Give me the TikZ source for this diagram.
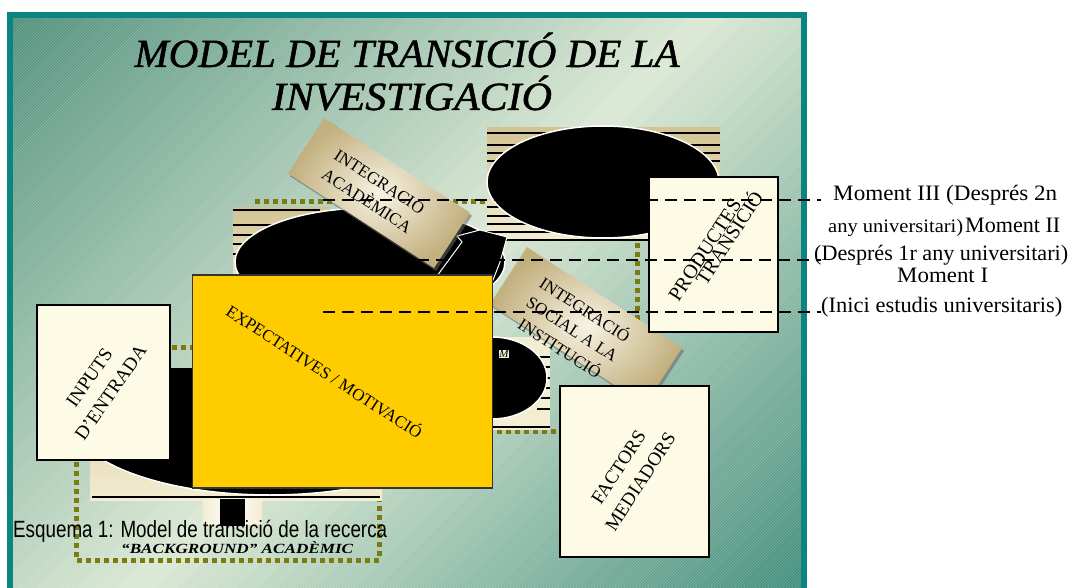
\documentclass[tikz,border=0pt]{standalone}
\usepackage{fontspec}
\setmainfont{Liberation Serif}
\setsansfont{Liberation Sans}
\newfontfamily\titlefont[FakeBold=1.2]{Liberation Serif}
\usetikzlibrary{patterns,shadows}
\definecolor{panelborder}{HTML}{0B8580}
\definecolor{bgdark}{HTML}{4F907C}
\definecolor{bglight}{HTML}{DCE9D5}
\definecolor{bgdeep}{HTML}{3A8977}
\definecolor{cream}{HTML}{FDFBE6}
\definecolor{paper}{HTML}{F3EDD2}
\definecolor{khaki}{HTML}{D2C393}
\definecolor{goldbox}{HTML}{FFCC00}
\definecolor{tagtan}{HTML}{C3B07F}
\definecolor{taglight}{HTML}{F7F3E3}
\definecolor{olivedot}{HTML}{7E7A12}
\tikzset{
 mybox/.style={draw=black, line width=2.4pt, fill=cream, inner sep=0pt},
 boxtext/.style={font=\fontsize{19}{26}\selectfont, align=center, inner sep=0pt},
 tagbox/.style={rotate=-33, inner sep=0pt, inner color=taglight, outer color=tagtan,
   drop shadow={shadow xshift=2pt, shadow yshift=-3pt, opacity=0.55, fill=black!60}},
 tagtext/.style={rotate=-33, font=\fontsize{17}{23}\selectfont, align=center, inner sep=0pt},
 dotline/.style={draw=olivedot, line width=5pt, dash pattern=on 5pt off 4pt},
 dashline/.style={draw=black, line width=1.8pt, dash pattern=on 12pt off 7pt},
 tickline/.style={draw=black, line width=1.3pt},
 blob/.style={fill=black, draw=white, line width=1.5pt},
 momtext/.style={anchor=base west, inner sep=0pt, font=\fontsize{22}{24}\selectfont},
 titletext/.style={anchor=base, inner sep=0pt, font=\titlefont\itshape\fontsize{40}{40}\selectfont},
}
\begin{document}
\begin{tikzpicture}[x=1pt,y=-1pt]
\useasboundingbox (0,0) rectangle (1071,588);
\fill[white] (0,0) rectangle (1071,588);
% panel background: diagonal gradient dark - light - dark
\begin{scope}
\clip (10,15) rectangle (804,600);
\foreach \i in {0,...,69} {
  \pgfmathsetmacro{\sa}{25+\i*20}
  \pgfmathsetmacro{\sb}{\sa+21}
  \pgfmathsetmacro{\tb}{(\i+0.5)/70}
  \pgfmathtruncatemacro{\pa}{\tb<0.5 ? 100*\tb/0.5 : 100*(1-\tb)/0.5}
  \ifdim\tb pt<0.5pt \colorlet{bandc}{bglight!\pa!bgdark}\else\colorlet{bandc}{bglight!\pa!bgdeep}\fi
  \fill[bandc] (\sa+100,-100) -- (\sb+100,-100) -- (\sb-700,700) -- (\sa-700,700) -- cycle;
}
\fill[pattern=north east lines, pattern color=white, opacity=0.2] (10,15) rectangle (804,600);
\end{scope}
\draw[panelborder, line width=5.5pt] (10,15) rectangle (804,600);

% dotted olive loop
\coordinate (d1) at (255,202);
\coordinate (d2) at (637,202);
\coordinate (d3) at (637,330);
\coordinate (d4) at (76,347);
\coordinate (d5) at (195,347);
\coordinate (d6) at (76,560);
\coordinate (d7) at (379,560);
\coordinate (d8) at (379,431);
\coordinate (d9) at (565,431);
\draw[dotline] (d1) -- (d2) -- (d3);
\draw[dotline] (d5) -- (d4) -- (d6) -- (d7) -- (d8) -- (d9);

% picture 1 (top right)
\shade[top color=khaki, bottom color=paper] (487,128) rectangle (720,240);
\foreach \yy in {133,145,153,161,207,216,224,232} \draw[tickline] (487,\yy) -- (720,\yy);
\draw[black, line width=1.6pt] (487,240) -- (720,240);
\filldraw[blob] (603,182) ellipse [x radius=116pt, y radius=56pt];

% picture 2 (middle)
\shade[top color=khaki, bottom color=paper] (233,208) rectangle (330,290);
\foreach \yy in {210,225,235,244,254} \draw[tickline] (233,\yy) -- (320,\yy);
\filldraw[blob] (370,262) ellipse [x radius=135pt, y radius=54pt];
\filldraw[fill=black, draw=white, line width=1pt] (437,276) -- (462,242) -- (457,236) -- (480,230) -- (507,237) -- (500,262) -- (493,280) -- cycle;

% picture 3 (bottom left)
\begin{scope}
\clip (90,368) rectangle (382,500);
\shade[top color=khaki, bottom color=paper] (90,368) rectangle (382,500);
\filldraw[blob] (270,417) ellipse [x radius=200pt, y radius=78pt];
\end{scope}
\draw[black, line width=2pt] (92,497) -- (380,497);
\shade[left color=paper, right color=paper, middle color=white] (203,499) rectangle (262,524);
\fill[black] (220,499) rectangle (245,526);

% picture 4 (right middle)
\fill[paper] (492,337) rectangle (550,430);
\foreach \yy in {357,367,378,388,398,409} \draw[tickline] (537,\yy) -- (550,\yy);
\filldraw[blob] (492,378) ellipse [x radius=55pt, y radius=41pt];
\draw[black, line width=1.5pt] (492,427) -- (550,427);
\node[fill=paper, draw=black, line width=0.8pt, inner sep=1pt, font=\itshape\fontsize{11}{11}\selectfont] (mlabel) at (504,354) {M};

% tags
\node[tagbox, minimum width=174pt, minimum height=66pt] (acad) at (379,193) {};
\node[tagtext] (acadT) at (374,190) {INTEGRACIÓ\\ACADÈMICA};
\node[tagbox, minimum width=185pt, minimum height=68pt] (social) at (586,326) {};
\node[tagtext] (socialT) at (573,328) {INTEGRACIÓ\\SOCIAL A LA\\INSTITUCIÓ};

% boxes
\node[mybox, minimum width=133pt, minimum height=155pt] (inputs) at (103.5,382.5) {};
\node[boxtext, rotate=55] (inputsT) at (100,385) {INPUTS\\D'ENTRADA};
\node[draw=black!80, line width=1.5pt, fill=goldbox, minimum width=300pt, minimum height=213pt, inner sep=0pt] (expect) at (342.5,381.5) {};
\node[font=\fontsize{17}{20}\selectfont, rotate=-33, inner sep=0pt] (expectT) at (325,371) {EXPECTATIVES / MOTIVACIÓ};
\node[mybox, minimum width=129pt, minimum height=155pt] (prod) at (713.5,254.5) {};
\node[font=\fontsize{20}{11}\selectfont, rotate=57, inner sep=0pt] (prodT1) at (705,250) {PRODUCTES};
\node[font=\fontsize{20}{11}\selectfont, rotate=57, inner sep=0pt] (prodT2) at (728,237) {TRANSICIÓ};
\node[mybox, minimum width=149pt, minimum height=171pt] (factors) at (634.5,471.5) {};
\node[boxtext, rotate=57] (factorsT) at (629.5,474.5) {FACTORS\\MEDIADORS};

% dashed moment lines
\coordinate (mA1) at (323,200);
\coordinate (mA2) at (821,200);
\coordinate (mB1) at (417,260);
\coordinate (mB2) at (821,260);
\coordinate (mC1) at (323,312);
\coordinate (mC2) at (821,312);
\draw[dashline] (mA1) -- (mA2);
\draw[dashline] (mB1) -- (mB2);
\draw[dashline] (mC1) -- (mC2);

% moment texts
\node[momtext] (m3a) at (833,201) {\resizebox{224pt}{\height}{Moment III (Després 2n}};
\node[momtext, font=\fontsize{19}{21}\selectfont] (m3b) at (828,233) {\resizebox{135pt}{\height}{any universitari)}};
\node[momtext] (m2a) at (965,233) {\resizebox{95pt}{\height}{Moment II}};
\node[momtext] (m2b) at (814,260) {\resizebox{254pt}{\height}{(Després 1r any universitari)}};
\node[momtext] (m1a) at (897,283) {\resizebox{91pt}{\height}{Moment I}};
\node[momtext] (m1b) at (821,312) {\resizebox{241pt}{\height}{(Inici estudis universitaris)}};

% title
\node[titletext] (t1) at (407,67) {\resizebox{545pt}{\height}{MODEL DE TRANSICIÓ DE LA}};
\node[titletext] (t2) at (412,110) {\resizebox{280pt}{\height}{INVESTIGACIÓ}};

% bottom texts
\node[anchor=base west, inner sep=0pt, font=\bfseries\itshape\fontsize{14}{15}\selectfont] (bgtext) at (121,553) {\resizebox{232pt}{\height}{“BACKGROUND” ACADÈMIC}};
\node[anchor=base west, inner sep=0pt, font=\sffamily\fontsize{23.5}{25}\selectfont] (caption) at (13,537) {\resizebox{374pt}{\height}{Esquema 1: Model de transició de la recerca}};
\end{tikzpicture}
\end{document}
